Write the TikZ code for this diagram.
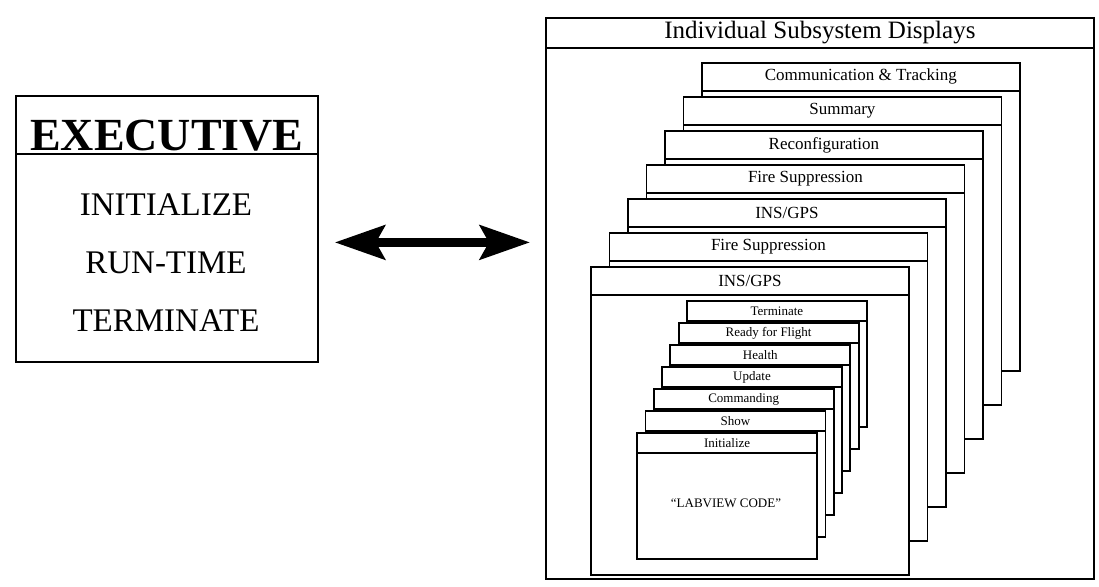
\documentclass[tikz,border=0pt]{standalone}
\usepackage{fontspec}
\setmainfont{Liberation Serif}
\usetikzlibrary{arrows.meta,positioning}

\begin{document}
\begin{tikzpicture}[x=1pt,y=-1pt,>={Stealth[length=50pt,width=34pt,inset=9pt]}]
        \tikzset{box/.style={draw, line width=1.8pt, fill=white, inner sep=0pt, anchor=north west},
        head/.style={draw, line width=1.8pt, inner sep=0pt, anchor=north},
        card/.style={box, minimum width=318pt, minimum height=308pt,
            label={[head, minimum width=318pt, minimum height=28pt, font=\fontsize{17}{20}\selectfont]north:#1}},
        page/.style={box, minimum width=180pt, minimum height=126pt,
            label={[head, minimum width=180pt, minimum height=20pt, font=\fontsize{13}{15}\selectfont]north:#1}},
        }
        \useasboundingbox (0,0) rectangle (1099,586);

%% executive block
        \node [box, minimum width=302pt, minimum height=266pt,
            label={[head, minimum width=302pt, minimum height=58pt, text height=52pt, text depth=0pt,
            font=\bfseries\fontsize{46}{50}\selectfont]north:EXECUTIVE}] (exec) at (15,95) {};
        \node [align=center, font=\fontsize{33}{58}\selectfont] (steps) at (166,263) {INITIALIZE\\RUN-TIME\\TERMINATE};

%% subsystem displays
        \node [box, minimum width=548pt, minimum height=561pt,
            label={[head, minimum width=548pt, minimum height=30pt, font=\fontsize{25}{28}\selectfont]north:Individual Subsystem Displays}] (disp) at (545,17) {};
        \node [card=Communication \& Tracking] (comm) at (701,62) {};
        \node [card=Summary] (summ) at ([shift={(-18.5,34)}]comm.north west) {};
        \node [card=Reconfiguration] (reconf) at ([shift={(-18.5,34)}]summ.north west) {};
        \node [card=Fire Suppression] (fire1) at ([shift={(-18.5,34)}]reconf.north west) {};
        \node [card=INS/GPS] (ins1) at ([shift={(-18.5,34)}]fire1.north west) {};
        \node [card=Fire Suppression] (fire2) at ([shift={(-18.5,34)}]ins1.north west) {};
        \node [card=INS/GPS] (ins2) at ([shift={(-18.5,34)}]fire2.north west) {};

%% pages of one display
        \node [page=Terminate] (term) at (686,300) {};
        \node [page=Ready for Flight] (ready) at ([shift={(-8.3,22)}]term.north west) {};
        \node [page=Health] (health) at ([shift={(-8.3,22)}]ready.north west) {};
        \node [page=Update] (update) at ([shift={(-8.3,22)}]health.north west) {};
        \node [page=Commanding] (cmd) at ([shift={(-8.3,22)}]update.north west) {};
        \node [page=Show] (show) at ([shift={(-8.3,22)}]cmd.north west) {};
        \node [page=Initialize] (init) at ([shift={(-8.3,22)}]show.north west) {};
        \node [font=\fontsize{13}{15}\selectfont] (code) at (726,503) {``LABVIEW CODE''};

%% paths
        \coordinate (a1) at ([yshift=-13.5pt]exec.east);
        \draw [<->, line width=9pt, shorten <=16pt, shorten >=15pt] (a1) -- (a1 -| disp.west);
\end{tikzpicture}
\end{document}
